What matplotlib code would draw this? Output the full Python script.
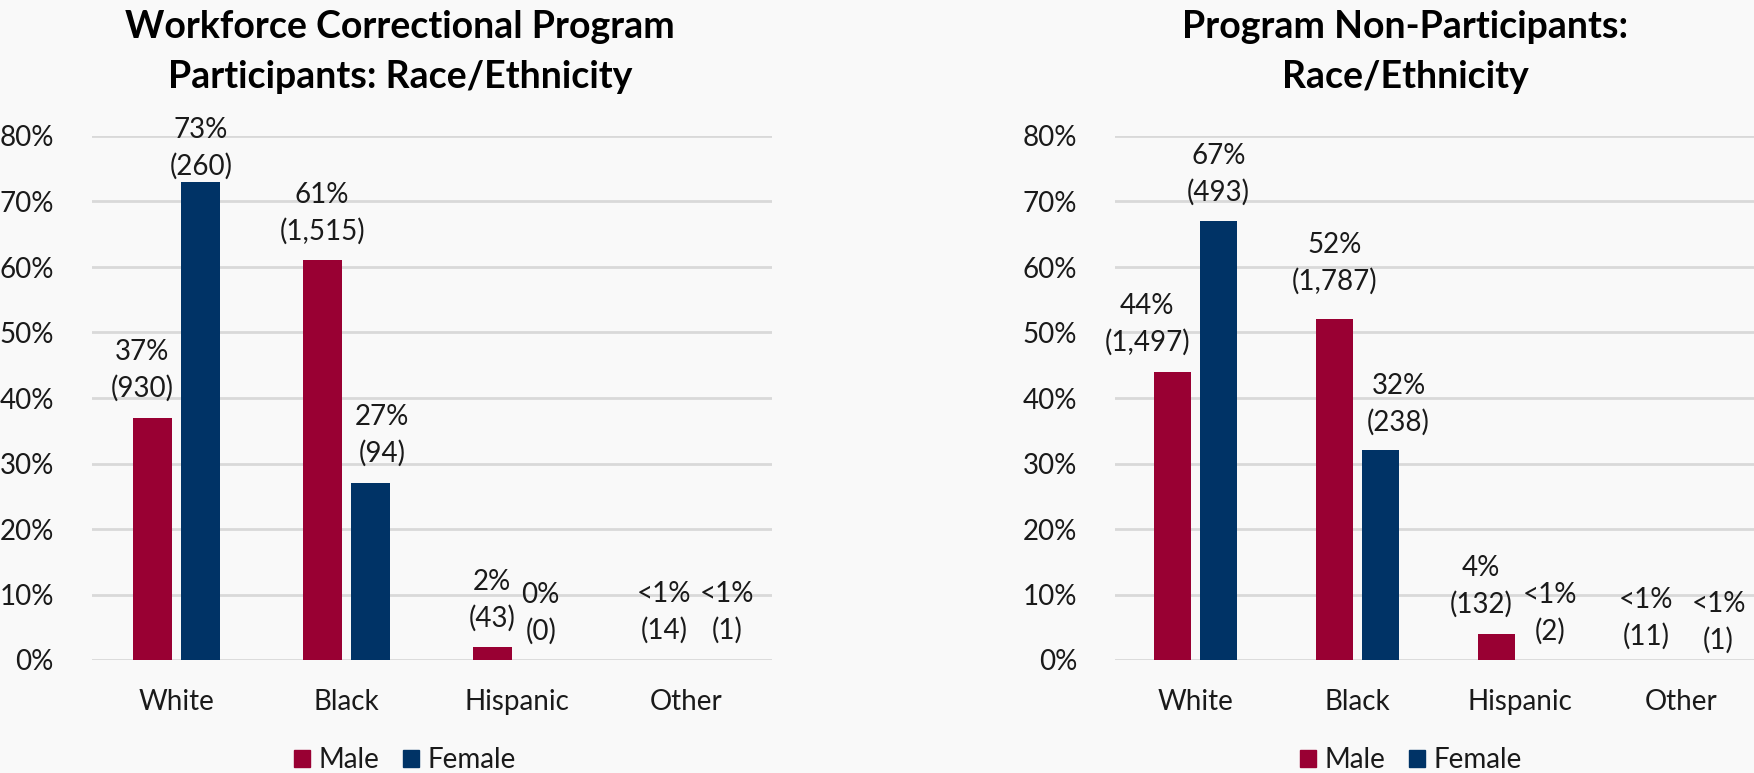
import matplotlib
matplotlib.use("Agg")
import matplotlib.pyplot as plt
from matplotlib.patches import Patch

plt.rcParams['font.family'] = ['Lato', 'DejaVu Sans']

categories = ['White', 'Black', 'Hispanic', 'Other']
y_ticks = [0, 10, 20, 30, 40, 50, 60, 70, 80]

# Workforce correctional program participants
part_male_pct = [37, 61, 2, 0]
part_male_n = [930, 1515, 43, 14]
part_female_pct = [73, 27, 0, 0]
part_female_n = [260, 94, 0, 1]

# Program non-participants
non_male_pct = [44, 52, 4, 0]
non_male_n = [1497, 1787, 132, 11]
non_female_pct = [67, 32, 0, 0]
non_female_n = [493, 238, 2, 1]

MALE = '#990033'
FEMALE = '#003366'
GRID = '#d9d9d9'
BG = '#f9f9f9'
TXT = '#1a1a1a'
FS = 20

W, H = 1754, 773
fig = plt.figure(figsize=(W / 100, H / 100), dpi=100, facecolor=BG)


def px_axes(left, top, right, bottom):
    return fig.add_axes([left / W, 1 - bottom / H, (right - left) / W, (bottom - top) / H])


def label_text(pct, n):
    if pct == 0 and n > 0:
        return f'<1%\n({n:,})'
    return f'{pct}%\n({n:,})'


def draw_panel(ax, male_pct, male_n, female_pct, female_n, offsets):
    ax.set_facecolor('none')
    x = range(len(categories))
    width, shift = 0.228, 0.143
    xm = [i - shift for i in x]
    xf = [i + shift for i in x]
    ax.bar(xm, male_pct, width, color=MALE, zorder=3)
    ax.bar(xf, female_pct, width, color=FEMALE, zorder=3)
    ax.set_xlim(-0.5, len(categories) - 0.5)
    ax.set_ylim(0, 80)
    ax.set_yticks(y_ticks)
    ax.set_yticklabels([f'{t}%' for t in y_ticks])
    ax.set_xticks(list(x))
    ax.set_xticklabels(categories)
    ax.tick_params(axis='y', length=0, pad=27, labelsize=FS, labelcolor=TXT)
    ax.tick_params(axis='x', length=0, pad=21, labelsize=FS, labelcolor=TXT)
    ax.grid(axis='y', color=GRID, linewidth=2, zorder=0)
    ax.set_axisbelow(True)
    for s in ax.spines.values():
        s.set_visible(False)
    series = [(xm, male_pct, male_n), (xf, female_pct, female_n)]
    for k, (xs, pcts, ns) in enumerate(series):
        for i, (xv, p, n) in enumerate(zip(xs, pcts, ns)):
            dx, dy = offsets[k][i]
            ax.annotate(label_text(p, n), xy=(xv, p), xytext=(dx, dy),
                        textcoords='offset pixels', ha='center', va='center',
                        fontsize=FS, color=TXT, linespacing=1.45,
                        annotation_clip=False, zorder=4)


# label offsets in pixels (male row, female row)
left_offsets = [[(-10, 47), (0, 47), (0, 47), (2, 48)],
                [(0, 33), (11, 48), (0, 47), (16, 48)]]
right_offsets = [[(-25, 47), (0, 56), (-15, 47), (-12, 42)],
                 [(0, 47), (18, 46), (7, 47), (14, 38)]]

ax1 = px_axes(91.5, 136, 771.5, 660)
draw_panel(ax1, part_male_pct, part_male_n, part_female_pct, part_female_n, left_offsets)

ax2 = px_axes(1114.5, 136, 1762.5, 660)
draw_panel(ax2, non_male_pct, non_male_n, non_female_pct, non_female_n, right_offsets)

title_kw = dict(ha='center', va='center', fontsize=27, fontweight='bold', color='#000000',
                linespacing=1.56)
fig.text(400 / W, 1 - 52 / H, 'Workforce Correctional Program\nParticipants: Race/Ethnicity', **title_kw)
fig.text(1405 / W, 1 - 52 / H, 'Program Non-Participants:\nRace/Ethnicity', **title_kw)

handles = [Patch(color=MALE, label='Male'), Patch(color=FEMALE, label='Female')]
for cx in (405, 1411):
    fig.legend(handles=handles, loc='center', bbox_to_anchor=(cx / W, 1 - 760 / H),
               bbox_transform=fig.transFigure, ncol=2, frameon=False, fontsize=FS,
               handlelength=0.58, handleheight=0.58, handletextpad=0.3,
               columnspacing=0.85, labelcolor=TXT)

fig.savefig('out.png', dpi=100, facecolor=BG)
